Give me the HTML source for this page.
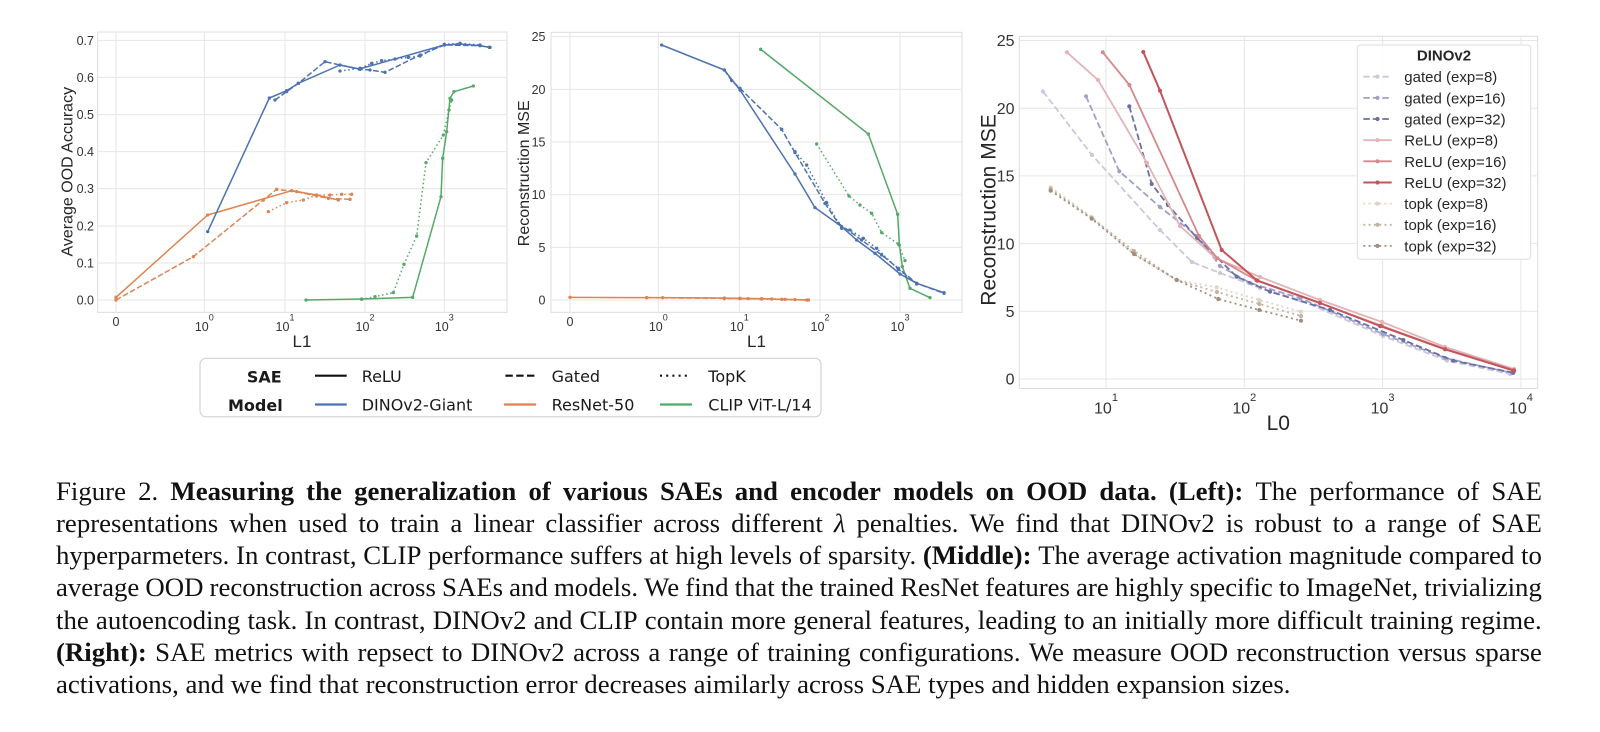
<!DOCTYPE html>
<html><head><meta charset="utf-8">
<style>
html,body{margin:0;padding:0;background:#fff;}
body{width:1600px;height:732px;position:relative;overflow:hidden;}
svg{position:absolute;left:0;top:0;}
.cap{position:absolute;left:56px;width:1486px;font-family:"Liberation Serif","DejaVu Serif",serif;font-size:26.8px;line-height:32px;color:#111;white-space:nowrap;}
.ln{display:flex;justify-content:space-between;}
.ln > *{flex:0 0 auto;}
w{display:block;}
</style></head><body>
<svg width="1600" height="440" viewBox="0 0 1600 440" xmlns="http://www.w3.org/2000/svg">
<defs>
<marker id="zb" viewBox="0 0 12 12" refX="6" refY="6" markerWidth="12" markerHeight="12" markerUnits="userSpaceOnUse"><circle cx="6" cy="6" r="5" fill="#4c72b0"/></marker>
<marker id="zo" viewBox="0 0 12 12" refX="6" refY="6" markerWidth="12" markerHeight="12" markerUnits="userSpaceOnUse"><circle cx="6" cy="6" r="5" fill="#dd8452"/></marker>
<marker id="zg" viewBox="0 0 12 12" refX="6" refY="6" markerWidth="12" markerHeight="12" markerUnits="userSpaceOnUse"><circle cx="6" cy="6" r="5" fill="#55a868"/></marker>
<marker id="g8" viewBox="0 0 6 6" refX="3" refY="3" markerWidth="6" markerHeight="6" markerUnits="userSpaceOnUse"><circle cx="3" cy="3" r="2.1" fill="#c9c9db"/></marker>
<marker id="g16" viewBox="0 0 6 6" refX="3" refY="3" markerWidth="6" markerHeight="6" markerUnits="userSpaceOnUse"><circle cx="3" cy="3" r="2.1" fill="#9fa1ca"/></marker>
<marker id="g32" viewBox="0 0 6 6" refX="3" refY="3" markerWidth="6" markerHeight="6" markerUnits="userSpaceOnUse"><circle cx="3" cy="3" r="2.1" fill="#6b6fa6"/></marker>
<marker id="r8" viewBox="0 0 6 6" refX="3" refY="3" markerWidth="6" markerHeight="6" markerUnits="userSpaceOnUse"><circle cx="3" cy="3" r="2.1" fill="#e4b3b5"/></marker>
<marker id="r16" viewBox="0 0 6 6" refX="3" refY="3" markerWidth="6" markerHeight="6" markerUnits="userSpaceOnUse"><circle cx="3" cy="3" r="2.1" fill="#d6898c"/></marker>
<marker id="r32" viewBox="0 0 6 6" refX="3" refY="3" markerWidth="6" markerHeight="6" markerUnits="userSpaceOnUse"><circle cx="3" cy="3" r="2.1" fill="#c3555a"/></marker>
<marker id="t8" viewBox="0 0 6 6" refX="3" refY="3" markerWidth="6" markerHeight="6" markerUnits="userSpaceOnUse"><circle cx="3" cy="3" r="2.1" fill="#dcd5c6"/></marker>
<marker id="t16" viewBox="0 0 6 6" refX="3" refY="3" markerWidth="6" markerHeight="6" markerUnits="userSpaceOnUse"><circle cx="3" cy="3" r="2.1" fill="#c0b4a3"/></marker>
<marker id="t32" viewBox="0 0 6 6" refX="3" refY="3" markerWidth="6" markerHeight="6" markerUnits="userSpaceOnUse"><circle cx="3" cy="3" r="2.1" fill="#a48d7d"/></marker>
</defs>

<!-- ============ LEFT PLOT (zoom coords) ============ -->
<g transform="translate(50,20) scale(0.3333333)">
<rect x="143" y="36" width="1228" height="841" fill="#fff" stroke="#dcdcdc" stroke-width="3"/>
<g stroke="#e6e6e6" stroke-width="3">
<line x1="143" y1="61" x2="1371" y2="61"/><line x1="143" y1="172" x2="1371" y2="172"/>
<line x1="143" y1="284" x2="1371" y2="284"/><line x1="143" y1="395" x2="1371" y2="395"/>
<line x1="143" y1="506" x2="1371" y2="506"/><line x1="143" y1="618" x2="1371" y2="618"/>
<line x1="143" y1="729" x2="1371" y2="729"/><line x1="143" y1="840" x2="1371" y2="840"/>
<line x1="198" y1="36" x2="198" y2="877"/><line x1="463" y1="36" x2="463" y2="877"/>
<line x1="705" y1="36" x2="705" y2="877"/><line x1="945" y1="36" x2="945" y2="877"/>
<line x1="1183" y1="36" x2="1183" y2="877"/>
</g>
<g fill="none" stroke-width="4.5" stroke-linejoin="round">
<path d="M198,832 L473,585 L725,512 L800,525 L865,540" stroke="#dd8452" marker-start="url(#zo)" marker-mid="url(#zo)" marker-end="url(#zo)"/>
<path d="M198,840 L430,710 L640,540 L680,508 L740,515 L800,528 L835,535 L900,538" stroke="#dd8452" stroke-dasharray="17,7" marker-start="url(#zo)" marker-mid="url(#zo)" marker-end="url(#zo)"/>
<path d="M655,575 L710,548 L760,540 L800,525 L840,525 L875,523 L905,523" stroke="#dd8452" stroke-dasharray="4.5,8" marker-start="url(#zo)" marker-mid="url(#zo)" marker-end="url(#zo)"/>
<path d="M768,840 L935,837 L1088,832 L1173,530 L1178,415 L1190,335 L1200,235 L1212,215 L1270,198" stroke="#55a868" marker-start="url(#zg)" marker-mid="url(#zg)" marker-end="url(#zg)"/>
<path d="M935,838 L975,830 L1030,818 L1062,733 L1100,648 L1128,428 L1180,345 L1197,270 L1205,240" stroke="#55a868" stroke-dasharray="4.5,8" marker-start="url(#zg)" marker-mid="url(#zg)" marker-end="url(#zg)"/>
<path d="M473,635 L658,234 L710,212 L745,190 L870,135 L928,147 L1183,75 L1230,72 L1290,77 L1318,82" stroke="#4c72b0" marker-start="url(#zb)" marker-mid="url(#zb)" marker-end="url(#zb)"/>
<path d="M675,240 L710,215 L745,190 L825,125 L930,148 L960,150 L1005,157 L1110,105 L1183,75 L1290,77 L1320,82" stroke="#4c72b0" stroke-dasharray="17,7" marker-start="url(#zb)" marker-mid="url(#zb)" marker-end="url(#zb)"/>
<path d="M870,153 L930,145 L965,130 L995,122 L1035,117 L1075,112 L1110,108 L1183,73 L1230,70 L1290,75" stroke="#4c72b0" stroke-dasharray="4.5,8" marker-start="url(#zb)" marker-mid="url(#zb)" marker-end="url(#zb)"/>
</g>
</g>

<!-- ============ MIDDLE PLOT (zoom coords) ============ -->
<g transform="translate(495,20) scale(0.3333333)">
<rect x="168" y="37" width="1233" height="840" fill="#fff" stroke="#dcdcdc" stroke-width="3"/>
<g stroke="#e6e6e6" stroke-width="3">
<line x1="168" y1="50" x2="1401" y2="50"/><line x1="168" y1="208" x2="1401" y2="208"/>
<line x1="168" y1="366" x2="1401" y2="366"/><line x1="168" y1="524" x2="1401" y2="524"/>
<line x1="168" y1="682" x2="1401" y2="682"/><line x1="168" y1="840" x2="1401" y2="840"/>
<line x1="225" y1="37" x2="225" y2="877"/><line x1="490" y1="37" x2="490" y2="877"/>
<line x1="733" y1="37" x2="733" y2="877"/><line x1="975" y1="37" x2="975" y2="877"/>
<line x1="1215" y1="37" x2="1215" y2="877"/>
</g>
<g fill="none" stroke-width="4.5" stroke-linejoin="round">
<path d="M225,832 L455,833 L503,833 L688,834 L735,835 L800,836 L860,838 L940,840" stroke="#dd8452" marker-start="url(#zo)" marker-mid="url(#zo)" marker-end="url(#zo)"/>
<path d="M455,833 L688,835 L760,836 L830,837 L900,839 L940,840" stroke="#dd8452" stroke-dasharray="17,7" marker-start="url(#zo)" marker-mid="url(#zo)" marker-end="url(#zo)"/>
<path d="M688,836 L735,836 L800,837 L870,838 L935,840" stroke="#dd8452" stroke-dasharray="4.5,8" marker-start="url(#zo)" marker-mid="url(#zo)" marker-end="url(#zo)"/>
<path d="M797,88 L1120,342 L1208,583 L1213,675 L1222,740 L1245,805 L1305,833" stroke="#55a868" marker-start="url(#zg)" marker-mid="url(#zg)" marker-end="url(#zg)"/>
<path d="M965,372 L1062,528 L1095,555 L1130,580 L1160,638 L1210,672 L1230,722" stroke="#55a868" stroke-dasharray="4.5,8" marker-start="url(#zg)" marker-mid="url(#zg)" marker-end="url(#zg)"/>
<path d="M500,75 L688,150 L735,210 L900,462 L960,563 L1040,620 L1085,660 L1140,700 L1215,762 L1265,790 L1347,818" stroke="#4c72b0" marker-start="url(#zb)" marker-mid="url(#zb)" marker-end="url(#zb)"/>
<path d="M688,150 L710,182 L735,205 L860,328 L900,398 L990,550 L1030,610 L1100,660 L1160,705 L1210,745 L1265,790 L1347,820" stroke="#4c72b0" stroke-dasharray="17,7" marker-start="url(#zb)" marker-mid="url(#zb)" marker-end="url(#zb)"/>
<path d="M900,395 L935,435 L995,548 L1040,625 L1065,630 L1105,655 L1145,685 L1210,748 L1265,792" stroke="#4c72b0" stroke-dasharray="4.5,8" marker-start="url(#zb)" marker-mid="url(#zb)" marker-end="url(#zb)"/>
</g>
</g>

<!-- tick labels left/middle -->
<g font-family="Liberation Sans, Arial, sans-serif" font-size="12.5" fill="#333">
<g text-anchor="end">
<text x="94" y="44.8">0.7</text><text x="94" y="81.9">0.6</text><text x="94" y="119">0.5</text>
<text x="94" y="156.1">0.4</text><text x="94" y="193.2">0.3</text><text x="94" y="230.3">0.2</text>
<text x="94" y="267.4">0.1</text><text x="94" y="304.5">0.0</text>
<text x="545.5" y="41.2">25</text><text x="545.5" y="93.9">20</text><text x="545.5" y="146.5">15</text>
<text x="545.5" y="199.2">10</text><text x="545.5" y="251.8">5</text><text x="545.5" y="304.5">0</text>
</g>
<g text-anchor="middle">
<text x="116" y="326.2">0</text>
<text x="204.3" y="331">10<tspan font-size="9" dy="-10.5">0</tspan></text>
<text x="285" y="331">10<tspan font-size="9" dy="-10.5">1</tspan></text>
<text x="365" y="331">10<tspan font-size="9" dy="-10.5">2</tspan></text>
<text x="444.3" y="331">10<tspan font-size="9" dy="-10.5">3</tspan></text>
<text x="570" y="326.2">0</text>
<text x="658.3" y="331">10<tspan font-size="9" dy="-10.5">0</tspan></text>
<text x="739.3" y="331">10<tspan font-size="9" dy="-10.5">1</tspan></text>
<text x="820" y="331">10<tspan font-size="9" dy="-10.5">2</tspan></text>
<text x="900" y="331">10<tspan font-size="9" dy="-10.5">3</tspan></text>
</g>
</g>
<g font-family="Liberation Sans, Arial, sans-serif" fill="#262626" text-anchor="middle">
<text x="302" y="347" font-size="17">L1</text>
<text x="756.5" y="347" font-size="17">L1</text>
<text transform="translate(66.7,171.7) rotate(-90)" x="0" y="5.7" font-size="16">Average OOD Accuracy</text>
<text transform="translate(523.3,173.3) rotate(-90)" x="0" y="5.7" font-size="16">Reconstruction MSE</text>
</g>

<!-- ============ BOTTOM LEGEND ============ -->
<rect x="200" y="358.3" width="621" height="58.5" rx="6" fill="#fff" stroke="#d3d3d3" stroke-width="1.2"/>
<g font-family="DejaVu Sans, sans-serif" font-size="16" fill="#1a1a1a">
<text x="281.7" y="382.5" text-anchor="end" font-weight="bold">SAE</text>
<text x="282.7" y="410.8" text-anchor="end" font-weight="bold">Model</text>
<text x="361.7" y="382">ReLU</text>
<text x="551.6" y="382">Gated</text>
<text x="708.3" y="382">TopK</text>
<text x="361.7" y="410.5">DINOv2-Giant</text>
<text x="551.6" y="410.5">ResNet-50</text>
<text x="708.3" y="410.5">CLIP ViT-L/14</text>
</g>
<g fill="none" stroke-width="2.2">
<line x1="315" y1="375.7" x2="346.7" y2="375.7" stroke="#111"/>
<line x1="505.4" y1="375.7" x2="535.6" y2="375.7" stroke="#111" stroke-dasharray="7.4,3.4"/>
<line x1="660" y1="375.7" x2="690" y2="375.7" stroke="#111" stroke-dasharray="2,4.2"/>
<line x1="315" y1="404.5" x2="346.7" y2="404.5" stroke="#4c72b0"/>
<line x1="504" y1="404.5" x2="536" y2="404.5" stroke="#dd8452"/>
<line x1="660" y1="404.5" x2="692" y2="404.5" stroke="#55a868"/>
</g>

<!-- ============ RIGHT PLOT (page coords) ============ -->
<rect x="1019.3" y="36.3" width="518.4" height="352.2" fill="#fff" stroke="#dcdcdc" stroke-width="1"/>
<g stroke="#e6e6e6" stroke-width="1">
<line x1="1019.3" y1="379" x2="1537.7" y2="379"/><line x1="1019.3" y1="311.3" x2="1537.7" y2="311.3"/>
<line x1="1019.3" y1="243.6" x2="1537.7" y2="243.6"/><line x1="1019.3" y1="175.9" x2="1537.7" y2="175.9"/>
<line x1="1019.3" y1="108.2" x2="1537.7" y2="108.2"/><line x1="1019.3" y1="40.5" x2="1537.7" y2="40.5"/>
<line x1="1106" y1="36.3" x2="1106" y2="388.5"/><line x1="1244.3" y1="36.3" x2="1244.3" y2="388.5"/>
<line x1="1382.6" y1="36.3" x2="1382.6" y2="388.5"/><line x1="1520.9" y1="36.3" x2="1520.9" y2="388.5"/>
</g>
<g fill="none" stroke-width="1.8" stroke-linejoin="round">
<path d="M1050.7,187.3 L1091.7,217 L1134,254 L1176.7,280 L1216.7,287.3 L1259.3,300 L1301,311.7" stroke="#dcd5c6" stroke-dasharray="2,3.3" marker-start="url(#t8)" marker-mid="url(#t8)" marker-end="url(#t8)"/>
<path d="M1050.7,189 L1091.7,218 L1134,251 L1176.7,280 L1217,292 L1259.3,304 L1301,316" stroke="#c0b4a3" stroke-dasharray="2,3.3" marker-start="url(#t16)" marker-mid="url(#t16)" marker-end="url(#t16)"/>
<path d="M1050.7,190.7 L1091.7,218.7 L1134,254 L1176.7,280 L1218.3,299 L1259.3,310 L1301,320.7" stroke="#a48d7d" stroke-dasharray="2,3.3" marker-start="url(#t32)" marker-mid="url(#t32)" marker-end="url(#t32)"/>
<path d="M1043,91.5 L1092,155 L1160,230 L1192,262 L1220,273 L1260,288 L1300,300 L1383,336 L1447,360.7 L1510,374" stroke="#c9c9db" stroke-dasharray="6.5,3" marker-start="url(#g8)" marker-mid="url(#g8)" marker-end="url(#g8)"/>
<path d="M1086,96.3 L1119.3,171.3 L1160,207 L1197,236 L1220,266 L1250,283 L1300,298 L1383,334 L1445,358 L1512,373" stroke="#9fa1ca" stroke-dasharray="6.5,3" marker-start="url(#g16)" marker-mid="url(#g16)" marker-end="url(#g16)"/>
<path d="M1129.3,106.3 L1151.7,184 L1168,205 L1197,238 L1236.7,276.7 L1270,291.7 L1330,310 L1403.3,340 L1453.3,360.7 L1513.3,372.7" stroke="#6b6fa6" stroke-dasharray="6.5,3" marker-start="url(#g32)" marker-mid="url(#g32)" marker-end="url(#g32)"/>
<path d="M1067,52.3 L1098,80 L1147,163 L1180,226 L1215.6,258 L1260,277 L1320,300 L1382,322 L1445,347 L1514,369" stroke="#e4b3b5" marker-start="url(#r8)" marker-mid="url(#r8)" marker-end="url(#r8)"/>
<path d="M1102.8,52.3 L1129.4,85 L1199,236 L1217.4,258.3 L1256,280 L1320,303 L1382,326 L1445,349 L1514,370" stroke="#d6898c" marker-start="url(#r16)" marker-mid="url(#r16)" marker-end="url(#r16)"/>
<path d="M1143.3,52 L1160,90.7 L1221.7,250 L1257.5,280.7 L1320,303 L1380,326 L1445,349.3 L1514,370.7" stroke="#c3555a" stroke-width="2" marker-start="url(#r32)" marker-mid="url(#r32)" marker-end="url(#r32)"/>
</g>
<g font-family="Liberation Sans, Arial, sans-serif" font-size="16" fill="#333">
<g text-anchor="end">
<text x="1014.5" y="46.2">25</text><text x="1014.5" y="113.9">20</text><text x="1014.5" y="181.6">15</text>
<text x="1014.5" y="249.3">10</text><text x="1014.5" y="317">5</text><text x="1014.5" y="384.7">0</text>
</g>
<g text-anchor="middle">
<text x="1106" y="413.3">10<tspan font-size="11" dy="-12.3">1</tspan></text>
<text x="1244.3" y="413.3">10<tspan font-size="11" dy="-12.3">2</tspan></text>
<text x="1382.6" y="413.3">10<tspan font-size="11" dy="-12.3">3</tspan></text>
<text x="1520.9" y="413.3">10<tspan font-size="11" dy="-12.3">4</tspan></text>
</g>
</g>
<g font-family="Liberation Sans, Arial, sans-serif" fill="#262626" text-anchor="middle">
<text x="1278.3" y="430.2" font-size="21">L0</text>
<text transform="translate(988,210) rotate(-90)" x="0" y="7.5" font-size="21">Reconstruction MSE</text>
</g>

<!-- right legend -->
<rect x="1357.3" y="45" width="173.4" height="214.3" rx="3" fill="#fff" fill-opacity="0.9" stroke="#dedede" stroke-width="1"/>
<g font-family="Liberation Sans, Arial, sans-serif" font-size="15" fill="#262626">
<text x="1444" y="60.5" text-anchor="middle" font-weight="bold">DINOv2</text>
<text x="1404.3" y="82.2">gated (exp=8)</text>
<text x="1404.3" y="103.3">gated (exp=16)</text>
<text x="1404.3" y="124.5">gated (exp=32)</text>
<text x="1404.3" y="145.6">ReLU (exp=8)</text>
<text x="1404.3" y="166.8">ReLU (exp=16)</text>
<text x="1404.3" y="187.9">ReLU (exp=32)</text>
<text x="1404.3" y="209.1">topk (exp=8)</text>
<text x="1404.3" y="230.2">topk (exp=16)</text>
<text x="1404.3" y="251.4">topk (exp=32)</text>
</g>
<g fill="none" stroke-width="1.8">
<path d="M1363.3,76.7 L1377.5,76.7 L1391.7,76.7" stroke="#c9c9db" stroke-dasharray="6.5,3" marker-mid="url(#g8)"/>
<path d="M1363.3,97.9 L1377.5,97.9 L1391.7,97.9" stroke="#9fa1ca" stroke-dasharray="6.5,3" marker-mid="url(#g16)"/>
<path d="M1363.3,119 L1377.5,119 L1391.7,119" stroke="#6b6fa6" stroke-dasharray="6.5,3" marker-mid="url(#g32)"/>
<path d="M1363.3,140.2 L1377.5,140.2 L1391.7,140.2" stroke="#e4b3b5" marker-mid="url(#r8)"/>
<path d="M1363.3,161.3 L1377.5,161.3 L1391.7,161.3" stroke="#d6898c" marker-mid="url(#r16)"/>
<path d="M1363.3,182.5 L1377.5,182.5 L1391.7,182.5" stroke="#c3555a" stroke-width="2" marker-mid="url(#r32)"/>
<path d="M1363.3,203.6 L1377.5,203.6 L1391.7,203.6" stroke="#dcd5c6" stroke-dasharray="2,3.3" marker-mid="url(#t8)"/>
<path d="M1363.3,224.8 L1377.5,224.8 L1391.7,224.8" stroke="#c0b4a3" stroke-dasharray="2,3.3" marker-mid="url(#t16)"/>
<path d="M1363.3,245.9 L1377.5,245.9 L1391.7,245.9" stroke="#a48d7d" stroke-dasharray="2,3.3" marker-mid="url(#t32)"/>
</g>
</svg>

<div class="cap ln" style="top:474.5px"><w>Figure</w><w>2.</w><b>Measuring</b><b>the</b><b>generalization</b><b>of</b><b>various</b><b>SAEs</b><b>and</b><b>encoder</b><b>models</b><b>on</b><b>OOD</b><b>data.</b><b>(Left):</b><w>The</w><w>performance</w><w>of</w><w>SAE</w></div>
<div class="cap ln" style="top:506.8px"><w>representations</w><w>when</w><w>used</w><w>to</w><w>train</w><w>a</w><w>linear</w><w>classifier</w><w>across</w><w>different</w><i>λ</i><w>penalties.</w><w>We</w><w>find</w><w>that</w><w>DINOv2</w><w>is</w><w>robust</w><w>to</w><w>a</w><w>range</w><w>of</w><w>SAE</w></div>
<div class="cap ln" style="top:539.1px"><w>hyperparmeters.</w><w>In</w><w>contrast,</w><w>CLIP</w><w>performance</w><w>suffers</w><w>at</w><w>high</w><w>levels</w><w>of</w><w>sparsity.</w><b>(Middle):</b><w>The</w><w>average</w><w>activation</w><w>magnitude</w><w>compared</w><w>to</w></div>
<div class="cap ln" style="top:571.4px"><w>average</w><w>OOD</w><w>reconstruction</w><w>across</w><w>SAEs</w><w>and</w><w>models.</w><w>We</w><w>find</w><w>that</w><w>the</w><w>trained</w><w>ResNet</w><w>features</w><w>are</w><w>highly</w><w>specific</w><w>to</w><w>ImageNet,</w><w>trivializing</w></div>
<div class="cap ln" style="top:603.7px"><w>the</w><w>autoencoding</w><w>task.</w><w>In</w><w>contrast,</w><w>DINOv2</w><w>and</w><w>CLIP</w><w>contain</w><w>more</w><w>general</w><w>features,</w><w>leading</w><w>to</w><w>an</w><w>initially</w><w>more</w><w>difficult</w><w>training</w><w>regime.</w></div>
<div class="cap ln" style="top:636px"><b>(Right):</b><w>SAE</w><w>metrics</w><w>with</w><w>repsect</w><w>to</w><w>DINOv2</w><w>across</w><w>a</w><w>range</w><w>of</w><w>training</w><w>configurations.</w><w>We</w><w>measure</w><w>OOD</w><w>reconstruction</w><w>versus</w><w>sparse</w></div>
<div class="cap" style="top:668.3px">activations, and we find that reconstruction error decreases aimilarly across SAE types and hidden expansion sizes.</div>
</body></html>
